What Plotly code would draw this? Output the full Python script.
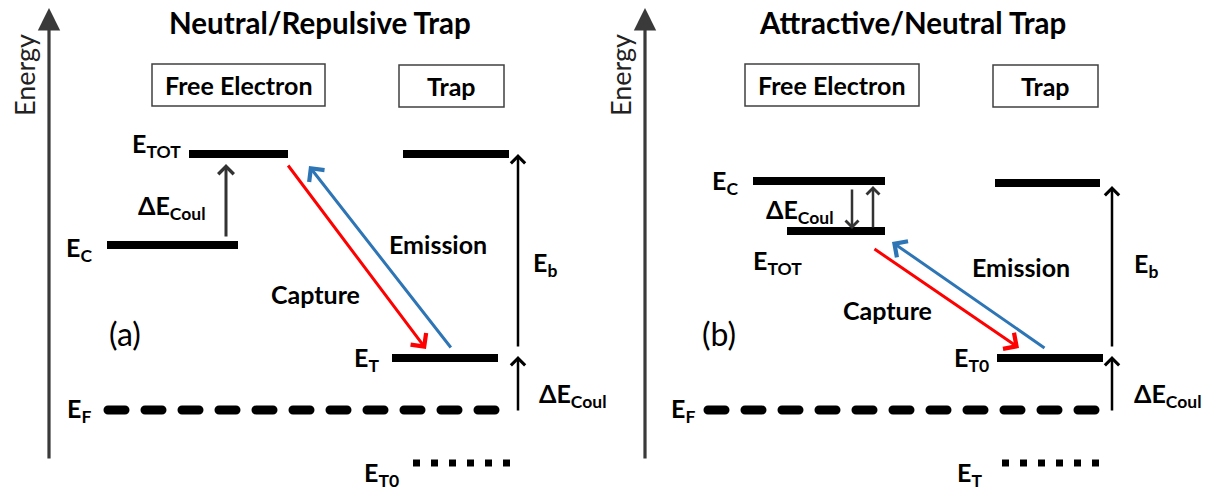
import plotly.graph_objects as go

FONT = "Lato"

# ---------------- data (diagram coordinates, y grows downward) ----------------
# Panel (a): Neutral/Repulsive trap — solid energy levels
a_level_names = ["E_TOT", "Trap upper", "E_C", "E_T"]
a_level_x0 = [189, 403, 107, 392]
a_level_x1 = [288, 509, 238, 498]
a_level_y = [154, 154, 245, 358]

# Panel (b): Attractive/Neutral trap — solid energy levels
b_level_names = ["E_C", "E_TOT", "Trap upper", "E_T0"]
b_level_x0 = [753, 787, 995, 997]
b_level_x1 = [885, 885, 1100, 1103]
b_level_y = [181, 231, 183, 358]

# Fermi level (dashed) per panel
fermi_x0 = [108, 708]
fermi_x1 = [506, 1107]
fermi_y = [410, 410]

# Reference trap level (dotted) per panel
ref_x0 = [413, 1002]
ref_x1 = [514, 1105]
ref_y = [463, 463]

# Energy axes (tail -> head)
axis_x = [49, 645]
axis_y_tail = [460, 460]
axis_y_head = [8, 8]

# Arrows: tail x, tail y, head x, head y, colour, width, size
arrow_names = ["dE a", "capture a", "emission a", "Eb a", "dE small a",
               "dE down b", "dE up b", "capture b", "emission b", "Eb b", "dE small b"]
arrow_tx = [226, 287, 452, 518, 518, 852, 873, 873, 1046, 1112, 1112]
arrow_ty = [238, 164, 349, 348, 412, 188, 229, 248, 349, 348, 412]
arrow_hx = [226, 426, 309, 518, 518, 852, 873, 1019, 892, 1112, 1112]
arrow_hy = [164, 349, 166, 154, 356, 229, 186, 348, 242, 186, 356]
arrow_color = ["#333333", "#FF0000", "#2E75B6", "#000000", "#000000",
               "#333333", "#333333", "#FF0000", "#2E75B6", "#000000", "#000000"]
arrow_width = [3, 3, 3, 2.5, 2.5, 2.5, 2.5, 3, 3, 2.5, 2.5]
arrow_size = [1.0, 1.25, 1.25, 1.1, 1.1, 1.0, 1.0, 1.25, 1.25, 1.1, 1.1]

# Boxed headers
box_text = ["Free Electron", "Trap", "Free Electron", "Trap"]
box_x0 = [152, 399, 745, 993]
box_x1 = [325, 504, 919, 1098]
box_y0 = [64, 65, 64, 65]
box_y1 = [106, 107, 106, 107]

# Titles
title_text = ["Neutral/Repulsive Trap", "Attractive/Neutral Trap"]
title_x = [320, 912]
title_y = [22, 22]

# Bold labels (text, anchor x, y, xanchor)
label_text = [
    "E<sub>TOT</sub>", "ΔE<sub>Coul</sub>", "E<sub>C</sub>", "Emission", "Capture",
    "E<sub>b</sub>", "E<sub>T</sub>", "ΔE<sub>Coul</sub>", "E<sub>F</sub>", "E<sub>T0</sub>",
    "E<sub>C</sub>", "ΔE<sub>Coul</sub>", "E<sub>TOT</sub>", "Emission", "Capture",
    "E<sub>b</sub>", "E<sub>T0</sub>", "ΔE<sub>Coul</sub>", "E<sub>F</sub>", "E<sub>T</sub>",
]
label_x = [183, 136, 94, 438, 315,
           531, 381, 537, 93, 401,
           740, 764, 804, 1021, 887,
           1132, 991, 1132, 697, 984]
label_y = [145, 207, 249, 244, 294,
           264, 359, 395, 410, 474,
           182, 211, 262, 267, 310,
           265, 359, 395, 410, 474]
label_anchor = ["right", "left", "right", "center", "center",
                "left", "right", "left", "right", "right",
                "right", "left", "right", "center", "center",
                "left", "right", "left", "right", "right"]

panel_tag = ["(a)", "(b)"]
panel_tag_x = [125, 719]
panel_tag_y = [333, 333]

energy_label_x = [24, 620]
energy_label_y = [75, 75]

# ---------------- figure ----------------
fig = go.Figure()


def segs(x0, x1, y):
    xs, ys = [], []
    for a, b, c in zip(x0, x1, y):
        xs += [a, b, None]
        ys += [c, c, None]
    return xs, ys


xs, ys = segs(a_level_x0 + b_level_x0, a_level_x1 + b_level_x1, a_level_y + b_level_y)
fig.add_trace(go.Scatter(x=xs, y=ys, mode="lines", line=dict(color="black", width=8),
                         hoverinfo="skip"))

xs, ys = segs(fermi_x0, fermi_x1, fermi_y)
fig.add_trace(go.Scatter(x=xs, y=ys, mode="lines",
                         line=dict(color="black", width=9, dash="17px,20px"),
                         hoverinfo="skip"))

xs, ys = segs(ref_x0, ref_x1, ref_y)
fig.add_trace(go.Scatter(x=xs, y=ys, mode="lines",
                         line=dict(color="black", width=7, dash="7px,11px"),
                         hoverinfo="skip"))

anns = []
for x, yt, yh in zip(axis_x, axis_y_tail, axis_y_head):
    anns.append(dict(x=x, y=yh, ax=x, ay=yt, xref="x", yref="y", axref="x", ayref="y",
                     text="", showarrow=True, arrowhead=2, arrowsize=1.4, arrowwidth=3.2,
                     arrowcolor="#3a3a3a", standoff=0))

for tx, ty, hx, hy, c, w, s in zip(arrow_tx, arrow_ty, arrow_hx, arrow_hy,
                                   arrow_color, arrow_width, arrow_size):
    anns.append(dict(x=hx, y=hy, ax=tx, ay=ty, xref="x", yref="y", axref="x", ayref="y",
                     text="", showarrow=True, arrowhead=4, arrowsize=s, arrowwidth=w,
                     arrowcolor=c, standoff=0))

shapes = []
for t, x0, x1, y0, y1 in zip(box_text, box_x0, box_x1, box_y0, box_y1):
    shapes.append(dict(type="rect", x0=x0, x1=x1, y0=y0, y1=y1, xref="x", yref="y",
                       line=dict(color="#404040", width=1.5), fillcolor="white", layer="below"))
    anns.append(dict(x=(x0 + x1) / 2, y=(y0 + y1) / 2, text="<b>" + t + "</b>", showarrow=False,
                     xref="x", yref="y", font=dict(family=FONT, size=25, color="black")))

for t, x, y in zip(title_text, title_x, title_y):
    anns.append(dict(x=x, y=y, text="<b>" + t + "</b>", showarrow=False, xref="x", yref="y",
                     font=dict(family=FONT, size=29.5, color="black")))

for t, x, y, xa in zip(label_text, label_x, label_y, label_anchor):
    anns.append(dict(x=x, y=y, text="<b>" + t + "</b>", showarrow=False, xref="x", yref="y",
                     xanchor=xa, yanchor="middle",
                     font=dict(family=FONT, size=25, color="black")))

for t, x, y in zip(panel_tag, panel_tag_x, panel_tag_y):
    anns.append(dict(x=x, y=y, text=t, showarrow=False, xref="x", yref="y",
                     font=dict(family=FONT, size=32, color="black")))

for x, y in zip(energy_label_x, energy_label_y):
    anns.append(dict(x=x, y=y, text="Energy", showarrow=False, xref="x", yref="y",
                     textangle=-90, font=dict(family=FONT, size=27, color="#222222")))

fig.update_layout(
    width=1227, height=496,
    margin=dict(l=0, r=0, t=0, b=0),
    paper_bgcolor="white", plot_bgcolor="white",
    showlegend=False,
    xaxis=dict(range=[0, 1227], visible=False, fixedrange=True),
    yaxis=dict(range=[496, 0], visible=False, fixedrange=True),
    annotations=anns, shapes=shapes,
)

post = """
document.body.style.margin = '0';
document.body.style.padding = '0';
document.querySelectorAll('path.js-line').forEach(function(p){
  var d = p.style.strokeDasharray || '';
  if (d.indexOf('17') === 0) { p.style.strokeLinecap = 'round'; }
});
"""
fig.write_html("out.html", post_script=post, config={"displayModeBar": False})
